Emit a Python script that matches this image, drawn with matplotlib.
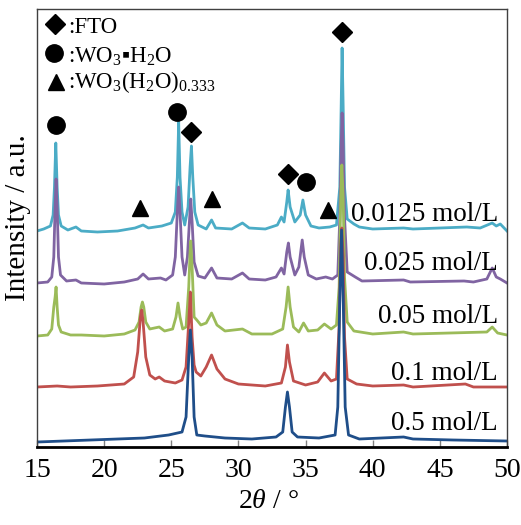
import matplotlib
matplotlib.use("Agg")
import matplotlib.pyplot as plt

plt.rcParams['font.family'] = ['Liberation Serif', 'DejaVu Sans']
plt.rcParams['mathtext.fontset'] = 'custom'
plt.rcParams['mathtext.rm'] = 'Liberation Serif'
plt.rcParams['mathtext.it'] = 'Liberation Serif:italic'
plt.rcParams['mathtext.bf'] = 'Liberation Serif:bold'
plt.rcParams['mathtext.fallback'] = 'stix'

# ---- data (2theta in degrees, intensity in arbitrary stacked units) ----
x_0125 = [15.0, 15.5, 16.0, 16.2, 16.3, 16.4, 16.5, 16.6, 16.8, 17.3, 17.9, 18.3, 19.5, 21.0, 22.3, 22.9,
          23.3, 24.3, 25.0, 25.3, 25.45, 25.55, 25.65, 25.8, 26.0, 26.25, 26.4, 26.5, 26.6, 26.75, 27.0,
          27.6, 28.0, 28.3, 29.5, 30.3, 30.8, 32.0, 32.9, 33.2, 33.4, 33.6, 33.7, 33.85, 34.2, 34.6, 34.8,
          35.0, 35.4, 36.0, 36.8, 37.3, 37.55, 37.65, 37.72, 37.8, 37.9, 38.1, 38.6, 39.0, 40.0, 42.3,
          43.0, 47.0, 48.0, 48.9, 49.2, 49.5, 50.0]
y_0125 = [216, 218, 221, 232, 260, 304, 260, 232, 221, 217, 220, 216, 215, 216, 219, 222,
          219, 221, 224, 235, 270, 325, 270, 235, 222, 240, 280, 301, 270, 235, 222,
          218, 227, 219, 218, 224, 219, 218, 222, 230, 225, 245, 257, 240, 225, 232, 247,
          232, 221, 219, 220, 222, 260, 340, 399, 340, 260, 228, 223, 220, 218, 219,
          218, 220, 219, 224, 221, 223, 216]

x_025 = [15.0, 15.8, 16.1, 16.25, 16.35, 16.42, 16.5, 16.6, 16.75, 17.2, 17.9, 18.3, 20.0, 21.5, 22.5,
         22.9, 23.3, 24.2, 24.6, 25.1, 25.3, 25.45, 25.55, 25.65, 25.8, 26.0, 26.2, 26.35, 26.45, 26.55,
         26.7, 27.0, 27.5, 28.0, 28.4, 29.5, 30.3, 30.8, 32.0, 32.8, 33.2, 33.4, 33.6, 33.72, 33.85,
         34.2, 34.5, 34.75, 34.9, 35.2, 35.8, 36.5, 37.0, 37.4, 37.55, 37.65, 37.72, 37.8, 37.9, 38.1,
         38.7, 39.2, 42.3, 42.8, 46.8, 47.5, 48.5, 48.9, 49.2, 49.5, 50.0]
y_025 = [164, 165, 170, 190, 240, 268, 240, 190, 172, 166, 167, 164, 163, 165, 168,
         173, 168, 169, 167, 172, 190, 235, 260, 235, 190, 172, 190, 225, 248, 225,
         185, 171, 169, 179, 169, 168, 174, 168, 167, 170, 179, 173, 195, 204, 190,
         172, 180, 207, 190, 172, 168, 170, 168, 172, 230, 300, 334, 300, 230, 175,
         170, 166, 167, 165, 166, 165, 168, 179, 170, 168, 164]

x_05 = [15.0, 15.8, 16.1, 16.25, 16.35, 16.42, 16.5, 16.6, 16.8, 17.5, 18.3, 20.0, 21.5, 22.3, 22.6,
        22.75, 22.85, 22.95, 23.1, 23.4, 24.1, 24.5, 25.1, 25.35, 25.5, 25.65, 25.85, 26.1, 26.3, 26.4,
        26.45, 26.55, 26.7, 26.9, 27.2, 27.6, 28.0, 28.4, 29.0, 30.3, 31.0, 32.5, 33.3, 33.55, 33.7,
        33.85, 34.1, 34.5, 34.85, 35.2, 35.9, 36.4, 36.9, 37.3, 37.5, 37.62, 37.7, 37.8, 37.9, 38.1,
        38.6, 40.0, 42.3, 43.0, 48.5, 48.9, 49.3, 50.0]
y_05 = [111, 112, 118, 140, 150, 160, 140, 122, 115, 112, 112, 111, 113, 117, 125,
        140, 145, 140, 125, 118, 120, 116, 118, 130, 144, 130, 118, 120, 160, 195,
        206, 180, 130, 127, 122, 124, 134, 122, 116, 118, 113, 113, 118, 140, 160,
        140, 120, 115, 124, 116, 117, 123, 118, 122, 160, 250, 282, 250, 170, 125,
        116, 113, 115, 113, 115, 120, 114, 112]

x_1 = [15.0, 16.5, 17.5, 19.5, 21.5, 22.2, 22.5, 22.7, 22.8, 22.9, 23.1, 23.4, 23.8, 24.1, 24.5, 25.3,
       25.8, 26.1, 26.3, 26.42, 26.55, 26.7, 26.85, 27.2, 27.6, 28.0, 28.4, 29.0, 30.0, 32.0, 33.2,
       33.5, 33.65, 33.8, 34.1, 35.0, 35.9, 36.4, 36.9, 37.3, 37.5, 37.62, 37.7, 37.8, 37.9, 38.1,
       38.8, 40.0, 42.3, 43.0, 46.9, 47.5, 50.0]
y_1 = [60, 61, 60, 61, 63, 70, 95, 130, 137, 125, 90, 72, 68, 70, 66, 64,
       67, 80, 125, 155, 110, 82, 75, 71, 80, 92, 78, 68, 63, 61, 64,
       80, 102, 85, 66, 62, 65, 74, 66, 68, 120, 200, 219, 190, 110, 68,
       63, 61, 62, 60, 63, 60, 60]

x_5 = [15.0, 17.0, 19.0, 21.0, 23.0, 24.8, 25.8, 26.1, 26.3, 26.42, 26.55, 26.7, 26.9, 27.5, 29.0,
       31.0, 32.8, 33.3, 33.5, 33.65, 33.8, 34.0, 34.4, 36.0, 37.2, 37.4, 37.55, 37.68, 37.8, 37.95,
       38.2, 39.0, 42.3, 43.0, 46.0, 50.0]
y_5 = [5, 6, 7, 8, 9, 12, 15, 30, 90, 117, 90, 30, 12, 11, 9,
       8, 10, 15, 40, 55, 40, 15, 10, 9, 12, 40, 150, 217, 150, 40,
       12, 8, 10, 8, 7, 6]

series_labels = ['0.0125 mol/L', '0.025 mol/L', '0.05 mol/L', '0.1 mol/L', '0.5 mol/L']
series_x = [x_0125, x_025, x_05, x_1, x_5]
series_y = [y_0125, y_025, y_05, y_1, y_5]
series_colors = ['#4BACC6', '#8064A2', '#9BBB59', '#C0504D', '#1F4E89']
label_y = [226, 177, 124, 67, 17]

# phase markers above peaks
fto_x = [26.45, 33.7, 37.7]
fto_y = [315, 273, 415]
hyd_x = [16.4, 25.45, 35.0]
hyd_y = [322, 335, 265]
tri_x = [22.7, 28.0, 36.7]
tri_y = [239, 248, 237]

xticks = [15, 20, 25, 30, 35, 40, 45, 50]

# ---- figure ----
fig = plt.figure(figsize=(5.21, 5.25), dpi=100)
ax = fig.add_axes([37/521, 1 - 447/525, 470/521, 438/525])

for xs, ys, c in zip(series_x, series_y, series_colors):
    ax.plot(xs, ys, color=c, lw=2.0, solid_joinstyle='round')

for lab, ly in zip(series_labels, label_y):
    ax.text(49.33, ly, lab, ha='right', va='baseline', fontsize=19.5)

ax.plot(fto_x, fto_y, 'D', color='black', ms=10.5, ls='none')
ax.plot(hyd_x, hyd_y, 'o', color='black', ms=12.5, ls='none')
ax.plot(tri_x, tri_y, '^', color='black', ms=12, ls='none')

# legend-like key
ax.plot([16.34], [423], 'D', color='black', ms=10.5)
ax.plot([16.3], [394], 'o', color='black', ms=12.5)
ax.plot([16.4], [365], '^', color='black', ms=12)
ax.text(17.3, 414, ':FTO', ha='left', va='baseline', fontsize=16.5)
ax.text(17.3, 384, ':WO$_{3}$\u25aaH$_{2}$O', ha='left', va='baseline', fontsize=16.5)
ax.text(17.3, 359, r':WO$_{3}$(H$_{2}$O)$_{0.333}$', ha='left', va='baseline', fontsize=16.5)

ax.set_xlim(15, 50)
ax.set_ylim(0, 438)
ax.set_xticks(xticks)
ax.set_xticklabels([str(t) for t in xticks], fontsize=20)
ax.set_yticks([])
ax.tick_params(axis='x', direction='in', length=5, width=1, color='#808080', pad=8)
for s in ['top', 'right', 'left']:
    ax.spines[s].set_linewidth(1.0)
    ax.spines[s].set_color('#404040')
ax.spines['bottom'].set_linewidth(2.0)
ax.spines['bottom'].set_color('black')

fig.text(268/521, 1 - 501/525, r'2$\it{\theta}$ / °', ha='center', va='center', fontsize=20)
fig.text(18/521, 1 - 218/525, 'Intensity / a.u.', ha='center', va='center', rotation=90, fontsize=21)

fig.savefig('out.png', dpi=100)
